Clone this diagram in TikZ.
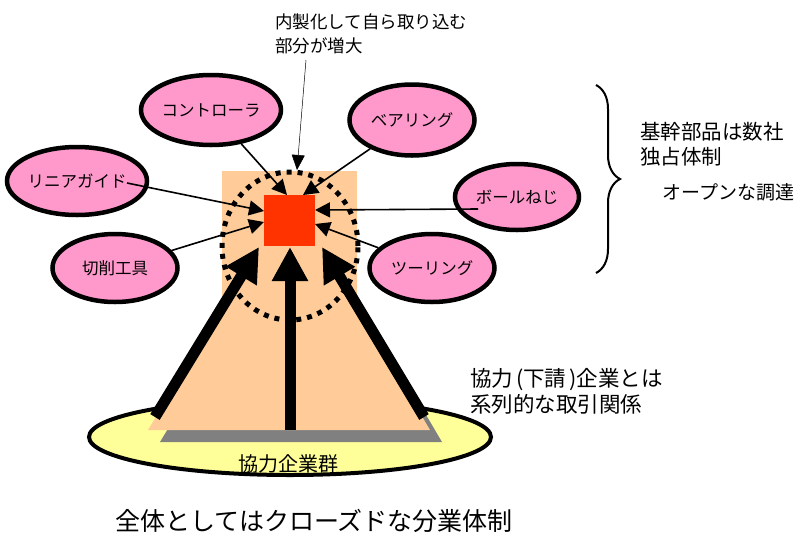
\documentclass[tikz,border=0pt]{standalone}
\usepackage{fontspec}
\setmainfont{Noto Sans CJK JP}
\usetikzlibrary{arrows.meta,shapes.geometric,decorations.pathreplacing,calc}
\definecolor{peach}{HTML}{FFCC99}
\definecolor{corered}{HTML}{FF3300}
\definecolor{pinkfill}{HTML}{FF99CC}
\definecolor{baseyellow}{HTML}{FFFF99}
\definecolor{shadowgray}{HTML}{808080}
\begin{document}
\begin{tikzpicture}[x=1pt,y=-1pt,
  pinkell/.style={ellipse, draw=black, line width=4.5pt, fill=pinkfill, inner sep=0pt,
    font=\fontsize{16.5pt}{18pt}\selectfont},
  thinarrow/.style={line width=1.6pt, -{Triangle[length=15pt,width=15pt]}},
  bigarrow/.style={line width=11pt, -{Triangle[length=34pt,width=34pt]}},
  label/.style={inner sep=0pt, align=left}
]
\useasboundingbox (0,0) rectangle (797,533);

% base ellipse
\node[ellipse, draw=black, line width=4pt, fill=baseyellow, minimum width=402pt, minimum height=76pt, inner sep=0pt] (base) at (290,437) {};

% shadow and peach body
\fill[shadowgray] (160,442) -- (303,206) -- (442,442) -- cycle;
\fill[peach] (148,430) -- (291,194) -- (430,430) -- cycle;
\fill[peach] (222,171) rectangle (357,320);
\node[label, font=\fontsize{20pt}{22pt}\selectfont] (baselbl) at (288,464) {協力企業群};

% core
\node[fill=corered, minimum size=51pt, inner sep=0pt] (core) at (289.5,220.5) {};
\coordinate (tA) at (287,195);
\coordinate (tB) at (303,195);
\coordinate (tC) at (264,211);
\coordinate (tD) at (264,222);
\coordinate (tE) at (315,210);
\coordinate (tF) at (315,224);

% ellipses
\node[pinkell, minimum width=127pt, minimum height=70pt] (ctrl) at (211,110) {コントローラ};
\node[pinkell, minimum width=125pt, minimum height=71pt] (bear) at (412,120) {ベアリング};
\node[pinkell, minimum width=125pt, minimum height=68pt] (lin) at (77,181) {リニアガイド};
\node[pinkell, minimum width=125pt, minimum height=68pt] (cut) at (115,268) {切削工具};
\node[pinkell, minimum width=124pt, minimum height=66pt] (ball) at (517,197) {ボールねじ};
\node[pinkell, minimum width=125pt, minimum height=68pt] (tool) at (432,268) {ツーリング};

% thin arrows
\draw[thinarrow] (ctrl) -- (tA);
\draw[thinarrow] (bear) -- (tB);
\draw[thinarrow] ($(lin.center)+(50,2)$) -- (tC);
\draw[thinarrow] (cut) -- (tD);
\draw[thinarrow] ($(ball.center)+(-39,12)$) -- (tE);
\draw[thinarrow] (tool) -- (tF);

% big arrows
\coordinate (bL0) at (155,417);
\coordinate (bL1) at (259,247);
\coordinate (bM0) at (290,430);
\coordinate (bM1) at (290,247);
\coordinate (bR0) at (424,417);
\coordinate (bR1) at (322,247);
\draw[bigarrow] (bL0) -- (bL1);
\draw[bigarrow] (bM0) -- (bM1);
\draw[bigarrow] (bR0) -- (bR1);

% dotted ring
\node[ellipse, draw=black, line width=5pt, dash pattern=on 5pt off 6pt, minimum width=136pt, minimum height=148pt, inner sep=0pt] (ring) at (290,246) {};

% top note
\node[label, anchor=west, font=\fontsize{17.5pt}{24pt}\selectfont] (topnote) at (275,34) {内製化して自ら取り込む\\部分が増大};
\coordinate (q) at (306,60);
\coordinate (qt) at (297,170);
\draw[line width=0.5pt, -{Triangle[length=15pt,width=13pt]}] (q) -- (qt);

% brace and right texts
\coordinate (br0) at (596,85);
\coordinate (br1) at (596,273);
\draw[line width=2pt, decorate, decoration={brace, amplitude=24pt}] (br0) -- (br1);
\node[label, anchor=west, font=\fontsize{20.5pt}{25pt}\selectfont] (kikan) at (640,144.5) {基幹部品は数社\\独占体制};
\node[label, anchor=west, font=\fontsize{19pt}{22pt}\selectfont] (open) at (662,192) {オープンな調達};

% cooperation note
\node[label, anchor=west, font=\fontsize{21.5pt}{26pt}\selectfont] (coop) at (470,391) {協力\hspace{3pt}(下請\hspace{3pt})企業とは\\系列的な取引関係};

% bottom caption
\node[label, font=\fontsize{25pt}{27pt}\selectfont] (caption) at (314,521) {全体としてはクローズドな分業体制};
\end{tikzpicture}
\end{document}
